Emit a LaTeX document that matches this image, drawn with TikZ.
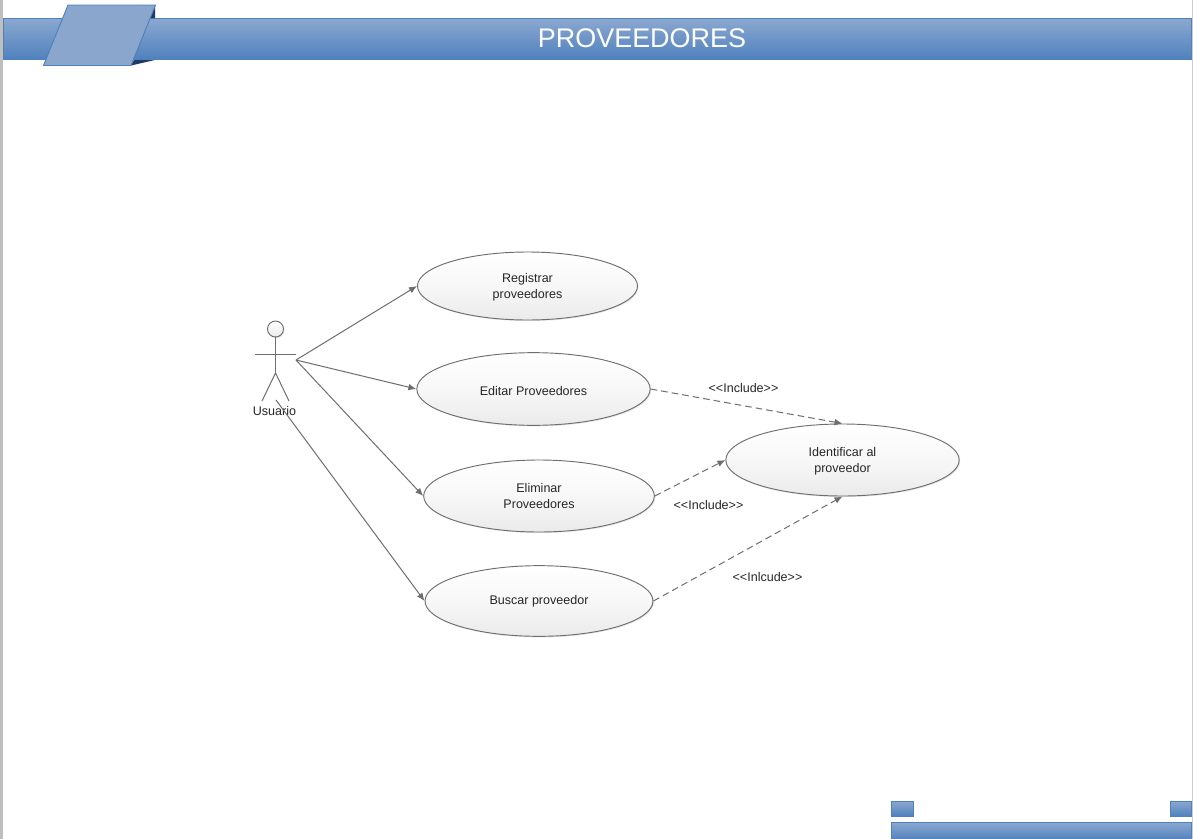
\documentclass[tikz,border=0pt]{standalone}
\usepackage{fontspec}
\setmainfont{Liberation Sans}
\usetikzlibrary{shapes.geometric,shadows,arrows.meta}
\definecolor{barblue}{HTML}{4F81BD}
\definecolor{barlight}{HTML}{8CA8D0}
\definecolor{bardark}{HTML}{1F3A63}
\definecolor{panelblue}{HTML}{8BA6CD}
\definecolor{linegrey}{HTML}{6E6E6E}
\definecolor{txtcol}{HTML}{262626}
\newcommand{\lowtxt}[1]{\rule{0pt}{#1}}
\tikzset{
  usecase/.style={ellipse, draw=linegrey, top color=white, bottom color=black!8, middle color=black!3,
    inner sep=0pt, align=center, font=\fontsize{9.4}{12}\selectfont, text=txtcol, line width=0.7pt,
    drop shadow={shadow xshift=0.8pt, shadow yshift=-0.8pt, opacity=0.1, fill=black}},
  lbl/.style={inner sep=0pt, align=center, font=\fontsize{9.4}{12}\selectfont, text=txtcol},
  assoc/.style={draw=linegrey, -{Latex[length=6pt,width=5pt]}, line width=0.75pt},
  incl/.style={draw=linegrey, -{Latex[length=6pt,width=5pt]}, line width=0.75pt, dash pattern=on 5pt off 3pt},
  actorline/.style={draw=linegrey, line width=0.75pt},
  barbox/.style={draw=barblue, line width=0.7pt, top color=barlight, bottom color=barblue},
}
\begin{document}
\begin{tikzpicture}[x=0.75pt,y=-0.75pt]
\useasboundingbox (0,0) rectangle (1193,839);
\fill[white] (0,0) rectangle (1193,839);
\fill[black!25] (0,0) rectangle (2.5,839);
\fill[black!20] (1191.5,0) rectangle (1193,839);

% header
\path[barbox] (3,18) rectangle (1191.5,59.5);
\fill[bardark] (155,5) -- (155,18) -- (149.5,18) -- cycle;
\fill[bardark] (131,65.5) -- (155,60) -- (134,60) -- cycle;
\draw[draw=barblue, line width=0.7pt, fill=panelblue] (43.5,65.5) -- (68,5) -- (155.5,5) -- (131,65.5) -- cycle;
\node[inner sep=0pt, text=white, font=\fontsize{20.2}{24}\selectfont] (title) at (642,38) {PROVEEDORES};

% footer
\path[barbox] (891,801) rectangle (913,816);
\path[barbox] (1170,801) rectangle (1191.5,816);
\path[barbox] (891,822) rectangle (1191.5,840);

% use cases
\node[usecase, minimum width=165pt, minimum height=51pt] (registrar) at (527.5,286) {\lowtxt{9.2pt}Registrar\\proveedores};
\node[usecase, minimum width=175pt, minimum height=54.5pt] (editar) at (533.5,389) {\lowtxt{10pt}Editar Proveedores};
\node[usecase, minimum width=173pt, minimum height=54pt] (eliminar) at (539,496) {Eliminar\\Proveedores};
\node[usecase, minimum width=171pt, minimum height=53pt] (buscar) at (539,601) {Buscar proveedor};
\node[usecase, minimum width=175pt, minimum height=54pt] (identificar) at (842.5,460) {\lowtxt{9.2pt}Identificar al\\proveedor};

% actor
\node[circle, draw=linegrey, line width=0.7pt, top color=white, bottom color=black!8, minimum size=12pt, inner sep=0pt,
  drop shadow={shadow xshift=0.8pt, shadow yshift=-0.8pt, opacity=0.1, fill=black}] (head) at (275.5,329) {};
\coordinate (hip) at (275.5,373);
\coordinate (armleft) at (255,354);
\coordinate (armright) at (296,354);
\coordinate (legleft) at (262,401);
\coordinate (legright) at (289,401);
\draw[actorline] (head) -- (hip);
\draw[actorline] (armleft) -- (armright);
\draw[actorline] (legleft) -- (hip) -- (legright);
\node[lbl] (usuario) at (274.5,411) {Usuario};

% associations
\coordinate (hand) at (296,360);
\coordinate (foot) at (276,400);
\draw[assoc] (hand) -- (registrar.west);
\draw[assoc] (hand) -- (editar.west);
\draw[assoc] (hand) -- (eliminar.west);
\draw[assoc] (foot) -- (buscar.west);

% includes
\draw[incl] (editar.east) -- (identificar.north);
\draw[incl] (eliminar.east) -- (identificar.west);
\draw[incl] (buscar.east) -- (identificar.south);
\node[lbl] (inc1) at (743.5,388) {<{}<Include>{}>};
\node[lbl] (inc2) at (708.5,505) {<{}<Include>{}>};
\node[lbl] (inc3) at (767.5,577) {<{}<Inlcude>{}>};
\end{tikzpicture}
\end{document}
